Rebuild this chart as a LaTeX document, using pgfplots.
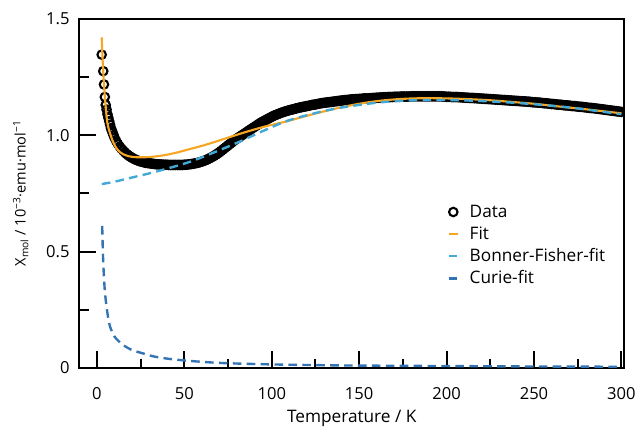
\documentclass[border=0pt]{standalone}
\usepackage{fontspec}
\setmainfont{Open Sans}
\usepackage{pgfplots}
\pgfplotsset{compat=1.18}

\definecolor{fitorange}{HTML}{F6A623}
\definecolor{bflight}{HTML}{42A9D6}
\definecolor{curiedark}{HTML}{3574B4}

\pgfplotsset{
  shortline legend/.style={legend image code/.code={\draw[##1] (0pt,0pt) -- (7pt,0pt); \path (13pt,0pt);}},
  dot legend/.style={legend image code/.code={\draw[##1] plot coordinates {(3.5pt,0pt)}; \path (0pt,0pt) (13pt,0pt);}},
}

\begin{document}
\begin{tikzpicture}
\begin{axis}[
    scale only axis,
    width=411pt, height=263.5pt,
    xmin=-10, xmax=301.5,
    ymin=0, ymax=1.5,
    clip marker paths=true,
    axis line style={line width=1.5pt},
    xtick={0,50,...,300},
    ytick={0,0.5,1,1.5},
    yticklabels={0,0.5,1.0,1.5},
    major tick length=0pt,
    /pgf/number format/assume math mode=true,
    tick label style={font=\fontsize{12.5}{14}\selectfont},
    yticklabel style={xshift=-4pt},
    xticklabel style={yshift=-11.5pt},
    xlabel style={font=\fontsize{13}{15}\selectfont, yshift=-1pt},
    ylabel style={font=\fontsize{11}{13}\selectfont, at={(axis description cs:-0.108,0.5)}, anchor=center},
    xlabel={Temperature / K},
    ylabel={X\textsubscript{mol} / 10\textsuperscript{−3}·emu·mol\textsuperscript{−1}},
    legend cell align=left,
    legend style={draw=none, fill=none, at={(0.668,0.483)}, anchor=north west,
        font=\fontsize{13}{15}\selectfont, row sep=1.5pt},
    shortline legend,
]
% ticks pointing into the box
\pgfplotsinvokeforeach{0,50,100,150,200,250,300}{\draw[line width=1.5pt] (axis cs:#1,0) -- ++(0pt,12.5pt);}
\pgfplotsinvokeforeach{25,75,125,175,225,275}{\draw[line width=1.5pt] (axis cs:#1,0) -- ++(0pt,6.5pt);}
\pgfplotsinvokeforeach{0.5,1.0}{\draw[line width=1.5pt] (axis cs:-10,#1) -- ++(12.5pt,0pt);}
\pgfplotsinvokeforeach{0.25,0.75,1.25}{\draw[line width=1.5pt] (axis cs:-10,#1) -- ++(7pt,0pt);}
% measured data
\addplot[only marks, mark=o, mark size=3.2pt, mark options={line width=1.6pt, black}, dot legend]
coordinates {
(2.7,1.346) (3.6,1.275) (4.0,1.218) (4.5,1.164) (5.0,1.13) (5.5,1.11)
(6.0,1.09) (6.5,1.075) (7.0,1.06) (7.5,1.045) (8.0,1.03) (8.5,1.02)
(9.0,1.01) (9.5,1.0)
(10,0.990) (11,0.975) (12,0.962) (13,0.951) (14,0.942) (15,0.934)
(16,0.926) (17,0.919) (18,0.913) (19,0.908) (20,0.903) (21,0.899)
(22,0.895) (23,0.892) (24,0.889) (25,0.887) (26,0.885) (27,0.883)
(28,0.881) (29,0.880) (30,0.879) (31,0.878) (32,0.877) (33,0.876)
(34,0.875) (35,0.875) (36,0.874) (37,0.874) (38,0.873) (39,0.873)
(40,0.873) (41,0.872) (42,0.872) (43,0.872) (44,0.872) (45,0.872)
(46,0.872) (47,0.872) (48,0.872) (49,0.872) (50,0.873) (51,0.873)
(52,0.874) (53,0.875) (54,0.876) (55,0.877) (56,0.879) (57,0.880)
(58,0.882) (59,0.884) (60,0.887) (61,0.889) (62,0.892) (63,0.895)
(64,0.899) (65,0.903) (66,0.907) (67,0.911) (68,0.916) (69,0.921)
(70,0.926) (71,0.932) (72,0.938) (73,0.944) (74,0.950) (75,0.956)
(76,0.962) (77,0.968) (78,0.974) (79,0.980) (80,0.985) (81,0.990)
(82,0.995) (83,1.000) (84,1.005) (85,1.010) (86,1.015) (87,1.020)
(88,1.025) (89,1.030) (90,1.035) (91,1.040) (92,1.045) (93,1.050)
(94,1.055) (95,1.059) (96,1.063) (97,1.067) (98,1.071) (99,1.075)
(100,1.079) (101,1.083) (102,1.086) (103,1.089) (104,1.092) (105,1.095)
(106,1.098) (107,1.100) (108,1.103) (109,1.105) (110,1.107) (111,1.109)
(112,1.111) (113,1.113) (114,1.115) (115,1.117) (116,1.119) (117,1.120)
(118,1.122) (119,1.123) (120,1.125) (121,1.126) (122,1.128) (123,1.130)
(124,1.131) (125,1.132) (126,1.134) (127,1.135) (128,1.137) (129,1.138)
(130,1.139) (131,1.140) (132,1.141) (133,1.142) (134,1.143) (135,1.144)
(136,1.145) (137,1.146) (138,1.147) (139,1.148) (140,1.149) (141,1.150)
(142,1.151) (143,1.151) (144,1.152) (145,1.153) (146,1.154) (147,1.154)
(148,1.155) (149,1.155) (150,1.156) (151,1.156) (152,1.157) (153,1.158)
(154,1.158) (155,1.158) (156,1.159) (157,1.159) (158,1.160) (159,1.160)
(160,1.161) (161,1.161) (162,1.162) (163,1.162) (164,1.163) (165,1.163)
(166,1.163) (167,1.164) (168,1.164) (169,1.164) (170,1.165) (171,1.165)
(172,1.165) (173,1.165) (174,1.166) (175,1.166) (176,1.166) (177,1.166)
(178,1.166) (179,1.166) (180,1.167) (181,1.167) (182,1.167) (183,1.167)
(184,1.167) (185,1.167) (186,1.167) (187,1.167) (188,1.167) (189,1.167)
(190,1.167) (191,1.167) (192,1.167) (193,1.167) (194,1.167) (195,1.167)
(196,1.167) (197,1.167) (198,1.166) (199,1.166) (200,1.165) (201,1.165)
(202,1.165) (203,1.164) (204,1.164) (205,1.164) (206,1.164) (207,1.163)
(208,1.163) (209,1.162) (210,1.162) (211,1.161) (212,1.161) (213,1.160)
(214,1.160) (215,1.160) (216,1.159) (217,1.159) (218,1.158) (219,1.158)
(220,1.157) (221,1.157) (222,1.156) (223,1.156) (224,1.155) (225,1.155)
(226,1.154) (227,1.154) (228,1.153) (229,1.153) (230,1.152) (231,1.152)
(232,1.151) (233,1.151) (234,1.150) (235,1.150) (236,1.149) (237,1.149)
(238,1.148) (239,1.148) (240,1.147) (241,1.147) (242,1.146) (243,1.146)
(244,1.145) (245,1.145) (246,1.144) (247,1.144) (248,1.143) (249,1.142)
(250,1.141) (251,1.141) (252,1.140) (253,1.140) (254,1.139) (255,1.138)
(256,1.137) (257,1.137) (258,1.136) (259,1.135) (260,1.134) (261,1.134)
(262,1.133) (263,1.132) (264,1.131) (265,1.131) (266,1.130) (267,1.129)
(268,1.128) (269,1.128) (270,1.127) (271,1.126) (272,1.125) (273,1.125)
(274,1.124) (275,1.123) (276,1.122) (277,1.122) (278,1.121) (279,1.120)
(280,1.119) (281,1.118) (282,1.117) (283,1.117) (284,1.116) (285,1.115)
(286,1.114) (287,1.113) (288,1.112) (289,1.111) (290,1.110) (291,1.109)
(292,1.108) (293,1.107) (294,1.106) (295,1.105) (296,1.104) (297,1.103)
(298,1.102) (299,1.101) (300,1.100)
};
\addlegendentry{Data}
% total fit
\addplot[color=fitorange, line width=1.6pt, smooth] coordinates {
(2.7,1.42) (3.2,1.33) (4,1.22) (5,1.12) (6,1.05) (7.4,1.01) (9,0.975)
(11,0.945) (13,0.928) (15,0.918) (18,0.91) (21,0.906) (25,0.905)
(30,0.906) (35,0.91) (40,0.916) (46,0.926) (53,0.94) (60,0.954)
(67,0.97) (74,0.987) (81,1.004) (88,1.02) (95,1.035) (102,1.048)
(109,1.06) (117,1.077) (125,1.093) (137,1.115) (150,1.135) (162,1.148)
(175,1.156) (187,1.159) (200,1.158) (212,1.155) (225,1.15) (237,1.143)
(250,1.135) (262,1.125) (275,1.115) (287,1.105) (300,1.094)
};
\addlegendentry{Fit}
% Bonner-Fisher
\addplot[color=bflight, line width=1.8pt, dash pattern=on 6.5pt off 4pt, smooth] coordinates {
(2.8,0.79) (10,0.8) (20,0.818) (30,0.836) (40,0.856) (53,0.885)
(65,0.92) (81,0.97) (95,1.018) (109,1.062) (125,1.095) (137,1.115)
(150,1.13) (162,1.141) (175,1.148) (187,1.151) (200,1.151) (212,1.149)
(225,1.145) (237,1.14) (250,1.133) (262,1.125) (275,1.115) (287,1.103)
(300,1.09)
};
\addlegendentry{Bonner-Fisher-fit}
% Curie
\addplot[color=curiedark, line width=1.8pt, dash pattern=on 6.5pt off 4pt, smooth] coordinates {
(3.0,0.61) (3.5,0.47) (4.5,0.33) (6,0.235) (7.4,0.18) (10,0.135)
(14.7,0.1) (20,0.077) (26,0.063) (32,0.05) (40,0.04) (50,0.032)
(62,0.025) (75,0.02) (100,0.015) (125,0.012) (150,0.01) (200,0.008)
(250,0.006) (300,0.005)
};
\addlegendentry{Curie-fit}
\end{axis}
\path ([shift={(-60pt,-39pt)}]current axis.south west) rectangle ([shift={(10.7pt,14.2pt)}]current axis.north east);
\end{tikzpicture}
\end{document}
